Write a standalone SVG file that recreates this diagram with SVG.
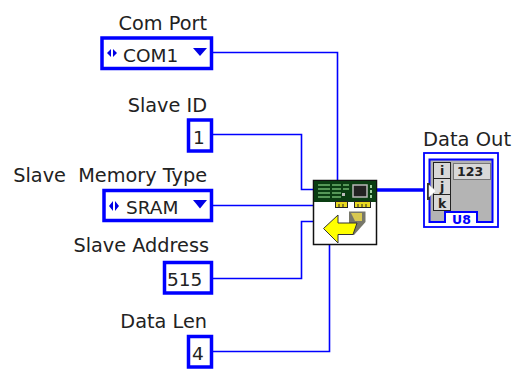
<svg xmlns="http://www.w3.org/2000/svg" width="515" height="370" viewBox="0 0 515 370">
<style>
text{font-family:"DejaVu Sans","Liberation Sans",sans-serif;font-size:18.500px;fill:#222;white-space:pre}
.l{font-size:19.300px;text-anchor:end}
.b{fill:#fff;stroke:#0000ff;stroke-width:3.500}
.w{fill:none;stroke:#0000ff;stroke-width:1.600}
.tri{fill:#0000e6}
.s{font-size:12.500px;font-weight:bold}
.pad{fill:#e8d820;stroke:#222}
</style>
<rect width="515" height="370" fill="#fff"/>
<g id="connectors">
<path class="w" d="M212 52.500H337.500V181"/>
<path class="w" d="M212 134.500H301.500V189.500H314"/>
<path class="w" d="M212 205.500H314"/>
<path class="w" d="M212 278.500H301.500V221.500H314"/>
<path class="w" d="M212 351.500H329.500V244"/>
<path d="M376 190H428" fill="none" stroke="#0000ff" stroke-width="3.400"/>
</g>
<g id="com-port">
<text class="l" x="207" y="30">Com Port</text>
<rect class="b" x="102" y="38" width="109.500" height="30.500"/>
<path class="tri" d="M107 53l4-4v8zM113 49l4 4-4 4z"/>
<text x="123" y="62">COM1</text>
<path class="tri" d="M193 48h14l-7 8z"/>
</g>
<g id="slave-id">
<text class="l" x="207" y="112">Slave ID</text>
<rect class="b" x="188.500" y="120" width="23" height="31"/>
<text x="193" y="144">1</text>
</g>
<g id="slave-memory-type">
<text class="l" x="207" y="182">Slave  Memory Type</text>
<rect class="b" x="104" y="190.500" width="107.500" height="30"/>
<path class="tri" d="M109 206l4-5v10zM115 201l4 5-4 5z"/>
<text x="126" y="214">SRAM</text>
<path class="tri" d="M193 200h14l-7 8.500z"/>
</g>
<g id="slave-address">
<text class="l" x="209" y="252">Slave Address</text>
<rect class="b" x="164.500" y="262.500" width="47" height="30.500"/>
<text x="167" y="286">515</text>
</g>
<g id="data-len">
<text class="l" x="207" y="328">Data Len</text>
<rect class="b" x="188.500" y="336.500" width="23" height="30.500"/>
<text x="192" y="360">4</text>
</g>
<g id="vi-node">
<rect x="313.500" y="180.500" width="63" height="64" fill="#fff" stroke="#111" stroke-width="1.500"/>
<rect x="314" y="181" width="62" height="21" fill="#0a3d12"/>
<path d="M318 185h12M332 185h9M318 189h12M332 189h9M318 193h12M332 193h9M318 197h12M332 197h9M343 185h6M343 189h6" stroke="#6fb56f" stroke-width="1.300" fill="none"/>
<rect x="353" y="185" width="14" height="12" fill="#222" stroke="#b8b8b8" stroke-width="1.500"/>
<rect x="342" y="193" width="3" height="3" fill="#bbb"/>
<path d="M371 185v3M371 190v3M371 195v3" stroke="#9fcf9f" stroke-width="2"/>
<rect class="pad" x="335.500" y="201.500" width="12" height="6"/>
<rect class="pad" x="354.500" y="201.500" width="16" height="6"/>
<path d="M339 204v3M343 204v3M358 204v3M362 204v3M366 204v3" stroke="#222"/>
<path d="M349 211.500H365.500V222L354 235H349Z" fill="#77776a"/>
<path d="M351 213h11v8h-7z" fill="#d8c850"/>
<path d="M323.500 228.500L338 215V223H357L353 234.500H338V243Z" fill="#ffff00" stroke="#333" stroke-width="1"/>
</g>
<g id="data-out">
<text x="423" y="146" style="font-size:19.500px">Data Out</text>
<rect x="424" y="153" width="74" height="74" fill="#fff" stroke="#0000ff" stroke-width="1.800"/>
<path d="M429.500 159.500H492.500V222H477V212H445V222H429.500Z" fill="#b4b4b4" stroke="#0000ff" stroke-width="2"/>
<rect x="433.500" y="162.500" width="17" height="16" fill="#d8d8d8" stroke="#222"/>
<rect x="433.500" y="178.500" width="17" height="16" fill="#d8d8d8" stroke="#222"/>
<rect x="433.500" y="194.500" width="17" height="16" fill="#d8d8d8" stroke="#222"/>
<text class="s" x="440" y="175">i</text>
<text class="s" x="440" y="191">j</text>
<text class="s" x="438" y="208">k</text>
<rect x="453.500" y="163.500" width="37" height="16" fill="#d8d8d8" stroke="#777"/>
<text class="s" x="457" y="176">123</text>
<path d="M427 183h3v17h-3z" fill="#333"/>
<path d="M429 185l7 6-7 6z" fill="#fff" stroke="#ccc" stroke-width="0.500"/>
<text class="s" x="452" y="224" style="fill:#0000ff">U8</text>
</g>
</svg>
